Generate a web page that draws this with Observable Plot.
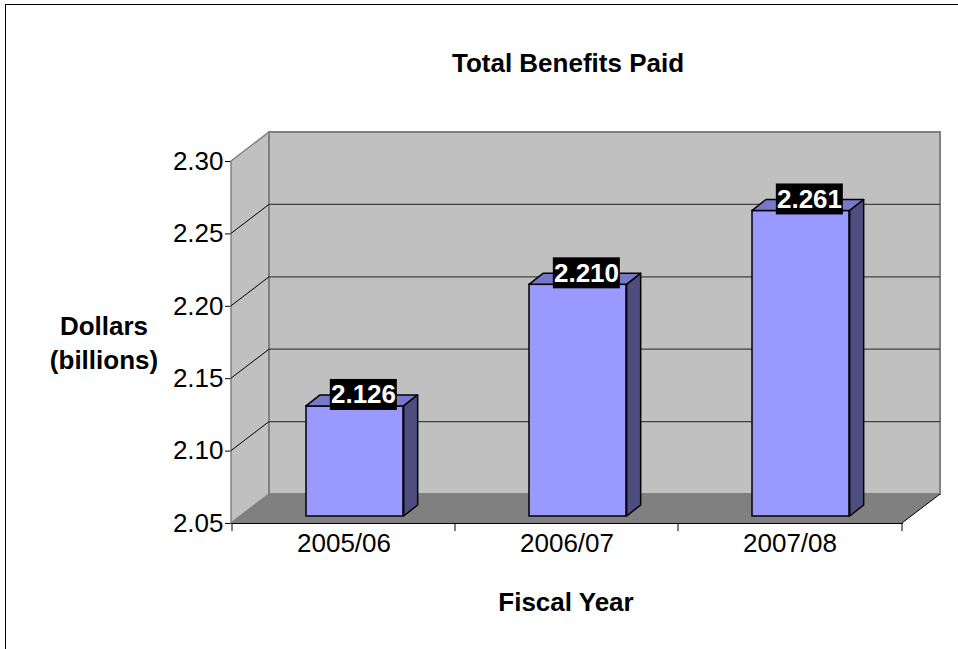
<!DOCTYPE html>
<html>
<head>
<meta charset="utf-8">
<script src="https://cdn.jsdelivr.net/npm/d3@7"></script>
<script src="https://cdn.jsdelivr.net/npm/@observablehq/plot@0.6"></script>
<style>
  html, body { margin: 0; padding: 0; background: #fff; overflow: hidden; }
  #wrap { position: relative; width: 958px; height: 649px; font-family: "Liberation Sans", Arial, sans-serif; }
  #frame { position: absolute; left: 5px; top: 4px; width: 2000px; height: 2000px; border: 1px solid #000; pointer-events: none; }
  .t { position: absolute; font-weight: bold; font-size: 26px; color: #000; white-space: nowrap; transform: translateX(-50%); text-align: center; }
  #title { left: 568px; top: 50px; line-height: 26px; }
  #ylabel { left: 104px; top: 309px; line-height: 34px; }
  #xlabel { left: 566px; top: 589px; line-height: 26px; }
  #chart { position: absolute; left: 0; top: 0; }
</style>
</head>
<body>
<div id="wrap">
  <div id="chart"></div>
  <div id="frame"></div>
  <div class="t" id="title">Total Benefits Paid</div>
  <div class="t" id="ylabel">Dollars<br>(billions)</div>
  <div class="t" id="xlabel">Fiscal Year</div>
</div>
<script>
// ---- data ----
const categories = ["2005/06", "2006/07", "2007/08"];
const values = [2.126, 2.210, 2.261];
const valueLabels = ["2.126", "2.210", "2.261"];
const yTicks = [2.05, 2.10, 2.15, 2.20, 2.25, 2.30];
const yDomain = [2.05, 2.30];

const data = categories.map((c, i) => ({category: c, value: values[i], label: valueLabels[i]}));

// ---- 3D styling (pixels) ----
const WALL_DX = 38, WALL_DY = -29;   // depth of the chart box
const BAR_OFF_X = 9, BAR_OFF_Y = -7; // bar front position within depth
const BAR_DX = 14, BAR_DY = -11;     // bar depth
const BAR_INSET_L = 65, BAR_INSET_R = 61;

function backdrop(index, scales, values, dims) {
  const {x, y} = scales;
  const x0 = dims.marginLeft, x1 = dims.width - dims.marginRight;
  const yb = y(yDomain[0]), yt = y(yDomain[1]);
  const g = d3.create("svg:g");
  // left side wall
  g.append("path")
    .attr("d", `M${x0},${yt}L${x0 + WALL_DX},${yt + WALL_DY}L${x0 + WALL_DX},${yb + WALL_DY}L${x0},${yb}Z`)
    .attr("fill", "#c0c0c0").attr("stroke", "#808080").attr("stroke-width", 1.5);
  // back wall
  g.append("rect")
    .attr("x", x0 + WALL_DX).attr("y", yt + WALL_DY)
    .attr("width", x1 - x0).attr("height", yb - yt)
    .attr("fill", "#c0c0c0").attr("stroke", "#808080").attr("stroke-width", 2);
  // floor
  g.append("path")
    .attr("d", `M${x0},${yb}L${x0 + WALL_DX},${yb + WALL_DY}L${x1 + WALL_DX},${yb + WALL_DY}L${x1},${yb}Z`)
    .attr("fill", "#808080");
  // gridlines on back wall + diagonals on side wall
  for (const t of yTicks.slice(1, -1)) {
    const yy = y(t);
    g.append("line").attr("x1", x0 + WALL_DX).attr("x2", x1 + WALL_DX)
      .attr("y1", yy + WALL_DY).attr("y2", yy + WALL_DY)
      .attr("stroke", "#404040").attr("stroke-width", 1.2);
    g.append("line").attr("x1", x0).attr("x2", x0 + WALL_DX)
      .attr("y1", yy).attr("y2", yy + WALL_DY)
      .attr("stroke", "#000").attr("stroke-width", 1);
  }
  // right floor edge
  g.append("line").attr("x1", x1 + WALL_DX).attr("y1", yb + WALL_DY)
    .attr("x2", x1).attr("y2", yb).attr("stroke", "#000").attr("stroke-width", 1);
  // category boundary ticks
  const bounds = categories.map(c => x(c)).concat([x1]);
  for (const bx of bounds) {
    g.append("line").attr("x1", bx).attr("x2", bx).attr("y1", yb).attr("y2", yb + 8)
      .attr("stroke", "#000").attr("stroke-width", 1);
  }
  return g.node();
}

function barFaces(index, scales, values, dims) {
  const {x, y} = scales;
  const step = (dims.width - dims.marginLeft - dims.marginRight) / categories.length;
  const g = d3.create("svg:g");
  for (const d of data) {
    const bx0 = x(d.category) + BAR_INSET_L + BAR_OFF_X;
    const bx1 = x(d.category) + step - BAR_INSET_R + BAR_OFF_X;
    const yt = y(d.value) + BAR_OFF_Y;
    const yb = y(yDomain[0]) + BAR_OFF_Y;
    g.append("path")
      .attr("d", `M${bx0},${yt}L${bx0 + BAR_DX},${yt + BAR_DY}L${bx1 + BAR_DX},${yt + BAR_DY}L${bx1},${yt}Z`)
      .attr("fill", "#7878c8").attr("stroke", "#000").attr("stroke-width", 1.5).attr("stroke-linejoin", "round");
    g.append("path")
      .attr("d", `M${bx1},${yt}L${bx1 + BAR_DX},${yt + BAR_DY}L${bx1 + BAR_DX},${yb + BAR_DY}L${bx1},${yb}Z`)
      .attr("fill", "#4d4d80").attr("stroke", "#000").attr("stroke-width", 1.5).attr("stroke-linejoin", "round");
    // label box
    const cx = x(d.category) + step / 2 + 19.5;
    const cy = yt - 11.5;
    g.append("rect").attr("x", cx - 33.5).attr("y", cy - 15.5).attr("width", 67).attr("height", 31).attr("fill", "#000");
  }
  return g.node();
}

const chart = Plot.plot({
  width: 958,
  height: 649,
  marginLeft: 231,
  marginRight: 56,
  marginTop: 161,
  marginBottom: 126,
  style: {fontFamily: "'Liberation Sans', Arial, sans-serif", fontSize: "26px", color: "#000", background: "transparent"},
  x: {type: "band", domain: categories, padding: 0, tickSize: 0, tickPadding: 10, label: null, line: true},
  y: {domain: yDomain, ticks: yTicks, tickFormat: d3.format(".2f"), tickSize: 6, tickPadding: 2, label: null, line: true},
  marks: [
    backdrop,
    Plot.barY(data, {x: "category", y1: yDomain[0], y2: "value", insetLeft: BAR_INSET_L, insetRight: BAR_INSET_R,
      dx: BAR_OFF_X, dy: BAR_OFF_Y, fill: "#9999ff", stroke: "#000", strokeWidth: 1.5}),
    barFaces,
    Plot.text(data, {x: "category", y: "value", text: "label", dx: 19.5, dy: BAR_OFF_Y - 11.5,
      fill: "#fff", fontWeight: "bold", fontSize: 26, fontFamily: "'Liberation Sans', Arial, sans-serif"})
  ]
});
document.getElementById("chart").appendChild(chart);
</script>
</body>
</html>
